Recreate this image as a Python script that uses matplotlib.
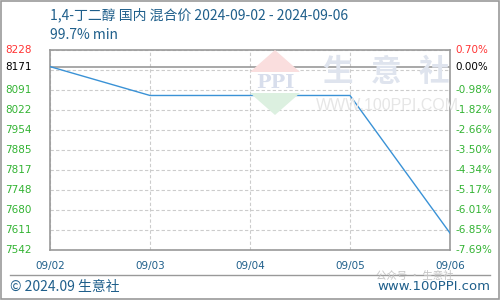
import numpy as np
import matplotlib
matplotlib.use("Agg")
import matplotlib.pyplot as plt
from matplotlib.patches import Polygon

plt.rcParams['font.family'] = ['Noto Sans CJK SC', 'DejaVu Sans']

# data
dates = ["09/02", "09/03", "09/04", "09/05", "09/06"]
prices = [8171, 8072, 8072, 8072, 7600]
base_price = 8171
y_top = 8228
y_bottom = 7542

# axis labels as printed on the reference (top to bottom, 8159 slot replaced by base)
left_labels = ["8228", "8091", "8022", "7954", "7885", "7817", "7748", "7680", "7611", "7542"]
right_labels = ["0.70%", "-0.98%", "-1.82%", "-2.66%", "-3.50%", "-4.34%",
                "-5.17%", "-6.01%", "-6.85%", "-7.69%"]

title = "1,4-丁二醇 国内 混合价 2024-09-02 - 2024-09-06"
subtitle = "99.7% min"

blue_text = "#1f5f8b"
green = "#33b333"
red = "#ff3333"

fig = plt.figure(figsize=(5, 3), dpi=100)
ax = fig.add_axes([0.1, 1 - 250 / 300, 0.8, 200 / 300])

x = np.arange(len(dates))
ax.plot(x, prices, color="#3a92d6", lw=1.0, zorder=3)

ax.set_xlim(0, len(dates) - 1)
ax.set_ylim(y_bottom, y_top)

ticks = np.linspace(y_bottom, y_top, 11)
ax.set_yticks(ticks)
ax.set_yticklabels([])
ax.set_xticks(x)
ax.set_xticklabels([])
ax.tick_params(length=0)
ax.grid(True, color="#cccccc", ls=(0, (3, 2)), lw=0.8)
ax.axhline(base_price, color="#999999", lw=1.2, zorder=2)
for s in ax.spines.values():
    s.set_color("#999999")
    s.set_linewidth(1.2)


def ypix(v):
    return 50 + (y_top - v) / (y_top - y_bottom) * 200


def fx(px):
    return px / 500


def fy(py):
    return 1 - py / 300


tick_vals = list(ticks[::-1])
tick_vals = [tick_vals[0]] + tick_vals[2:]
rows = [(tick_vals[0], left_labels[0], right_labels[0], red),
        (base_price, str(base_price), "0.00%", "black")]
for v, l, r in zip(tick_vals[1:], left_labels[1:], right_labels[1:]):
    rows.append((v, l, r, green))
for v, l, r, c in rows:
    yy = fy(ypix(v))
    fig.text(fx(5), yy, l, color=c, fontsize=7.5,
             family="DejaVu Sans", va="center", ha="left")
    fig.text(fx(455), yy, r, color=c, fontsize=7.5,
             family="DejaVu Sans", va="center", ha="left")

for i, d in enumerate(dates):
    fig.text(fx(50 + i * 100), fy(266), d, color=blue_text, fontsize=7.5,
             family="DejaVu Sans", ha="center", va="center")

fig.text(fx(50), fy(15), title, color=blue_text, fontsize=10,
         va="center", ha="left")
fig.text(fx(50), fy(35), subtitle, color=blue_text, fontsize=10,
         va="center", ha="left")

# watermark logo and text
fig.add_artist(Polygon([(fx(250), fy(72)), (fx(275), fy(50)), (fx(300), fy(72))],
                       closed=True, fc="#fadede", ec="none", transform=fig.transFigure, zorder=0.5))
fig.add_artist(Polygon([(fx(250), fy(93)), (fx(275), fy(115)), (fx(300), fy(93))],
                       closed=True, fc="#dcf0e0", ec="none", transform=fig.transFigure, zorder=0.5))
fig.text(fx(275), fy(83), "PPI", fontsize=14, color="#d8deec", fontweight="bold",
         family="DejaVu Serif", ha="center", va="center", zorder=0.5)
for cx, ch in zip([337, 386, 434], "生意社"):
    fig.text(fx(cx), fy(72), ch, fontsize=22, color="#dfe4ee",
             fontweight="bold", ha="center", va="center", zorder=0.5)
fig.text(fx(387), fy(106), "WWW.100PPI.COM", fontsize=11.5, color="#e6e6e6",
         family="Liberation Sans", ha="center", va="center", zorder=0.5)

# footer
fig.add_artist(plt.Line2D([fx(10), fx(490)], [fy(275)] * 2,
                          color="#999999", lw=1))
fig.text(fx(10), fy(287), "© 2024.09 生意社", color=blue_text,
         fontsize=10, va="center", ha="left")
fig.text(fx(490), fy(287), "www.100PPI.com", color=blue_text,
         fontsize=9.5, family="DejaVu Sans", va="center", ha="right")
fig.text(fx(415), fy(276), "公众号 · 生意社", color="#c4c4c4",
         fontsize=7.5, va="center", ha="center")

fig.add_artist(plt.Rectangle((0.001, 0.002), 0.997, 0.995, fill=False,
                             ec="#999999", lw=1.2, transform=fig.transFigure))

fig.savefig("out.png", dpi=100)
